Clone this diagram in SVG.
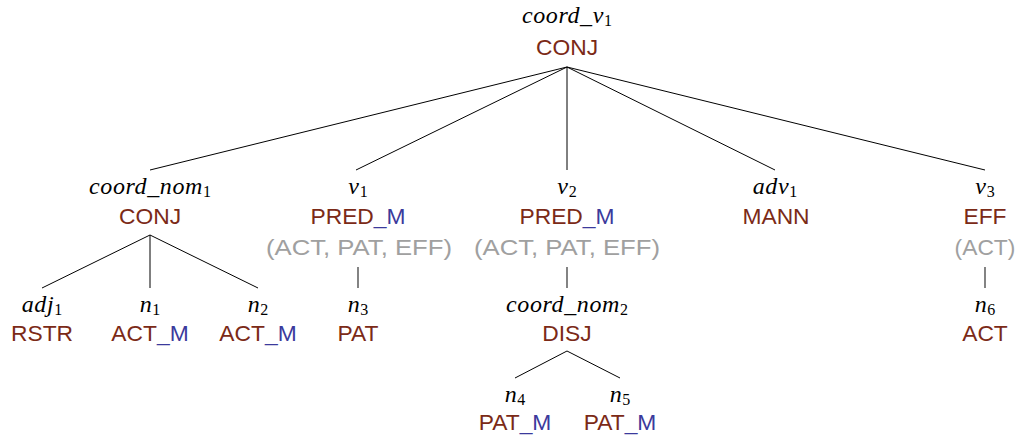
<svg xmlns="http://www.w3.org/2000/svg" width="1023" height="438" viewBox="0 0 1023 438">
<style>
.m{font-family:"Liberation Serif",serif;font-style:italic;font-size:24px;letter-spacing:0.6px;fill:#000;text-anchor:middle}
.m .s{font-style:normal;font-size:16px;letter-spacing:0}
.f{font-family:"Liberation Sans",Arial,sans-serif;font-size:22.8px;text-anchor:middle;fill:#7b2a17}
.b{fill:#3b3a9c}
.g{font-family:"Liberation Sans",Arial,sans-serif;font-size:22.8px;text-anchor:middle;fill:#a0a0a0}
.e{stroke:#000;stroke-width:1;fill:none}
.v{stroke:#333;stroke-width:1.2}
</style>
<g id="connectors">
<path class="e" d="M567 67L150 170M567 67L356 170M567 67L567 170M567 67L775 170M567 67L985 170"/>
<path class="e" d="M150 235L42 288M150 235L150 288M150 235L258 288"/>
<path class="e v" d="M358 267V288M567 267V288M985 267V288"/>
<path class="e" d="M567 351L515 378M567 351L620 378"/>
</g>
<g id="coord_v1"><text class="m" x="567" y="23">coord_v<tspan class="s" dy="3">1</tspan></text><text class="f" x="567" y="55">CONJ</text></g>
<g id="coord_nom1"><text class="m" x="150" y="194">coord_nom<tspan class="s" dy="3">1</tspan></text><text class="f" x="150" y="224">CONJ</text></g>
<g id="v1"><text class="m" x="358" y="194">v<tspan class="s" dy="3">1</tspan></text><text class="f" x="358" y="224">PRED<tspan class="b">_M</tspan></text><text class="g" x="359" y="255" textLength="186" lengthAdjust="spacingAndGlyphs">(ACT, PAT, EFF)</text></g>
<g id="v2"><text class="m" x="567" y="194">v<tspan class="s" dy="3">2</tspan></text><text class="f" x="567" y="224">PRED<tspan class="b">_M</tspan></text><text class="g" x="567" y="255" textLength="186" lengthAdjust="spacingAndGlyphs">(ACT, PAT, EFF)</text></g>
<g id="adv1"><text class="m" x="775" y="194">adv<tspan class="s" dy="3">1</tspan></text><text class="f" x="776" y="224">MANN</text></g>
<g id="v3"><text class="m" x="985" y="194">v<tspan class="s" dy="3">3</tspan></text><text class="f" x="985" y="224">EFF</text><text class="g" x="985" y="255">(ACT)</text></g>
<g id="adj1"><text class="m" x="42" y="312">adj<tspan class="s" dy="3">1</tspan></text><text class="f" x="42" y="341">RSTR</text></g>
<g id="n1"><text class="m" x="150" y="312">n<tspan class="s" dy="3">1</tspan></text><text class="f" x="150" y="341">ACT<tspan class="b">_M</tspan></text></g>
<g id="n2"><text class="m" x="258" y="312">n<tspan class="s" dy="3">2</tspan></text><text class="f" x="258" y="341">ACT<tspan class="b">_M</tspan></text></g>
<g id="n3"><text class="m" x="358" y="312">n<tspan class="s" dy="3">3</tspan></text><text class="f" x="358" y="341">PAT</text></g>
<g id="coord_nom2"><text class="m" x="567" y="312">coord_nom<tspan class="s" dy="3">2</tspan></text><text class="f" x="567" y="341">DISJ</text></g>
<g id="n6"><text class="m" x="985" y="312">n<tspan class="s" dy="3">6</tspan></text><text class="f" x="985" y="341">ACT</text></g>
<g id="n4"><text class="m" x="515" y="402">n<tspan class="s" dy="3">4</tspan></text><text class="f" x="515" y="430">PAT<tspan class="b">_M</tspan></text></g>
<g id="n5"><text class="m" x="620" y="402">n<tspan class="s" dy="3">5</tspan></text><text class="f" x="620" y="430">PAT<tspan class="b">_M</tspan></text></g>
</svg>
